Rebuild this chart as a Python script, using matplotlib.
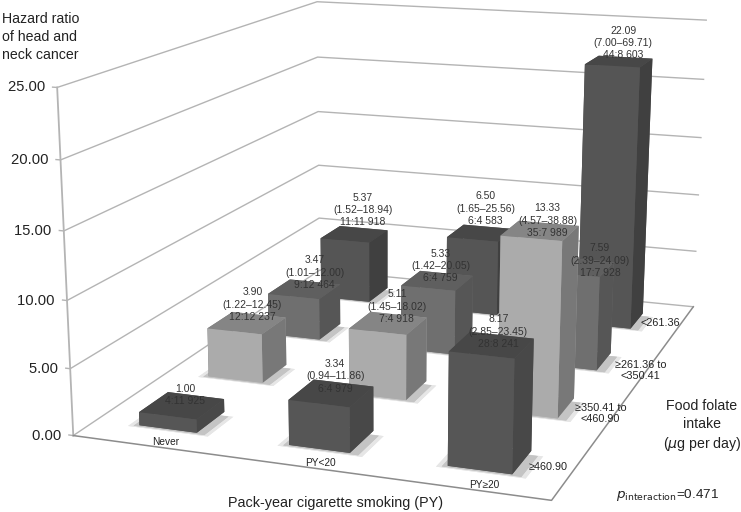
import numpy as np
import matplotlib
matplotlib.use("Agg")
import matplotlib.pyplot as plt
from mpl_toolkits.mplot3d import Axes3D  # noqa

plt.rcParams['font.family'] = ['Liberation Sans', 'DejaVu Sans']

# ---------- data ----------
smoking = ['Never', 'PY<20', 'PY≥20']
folate = ['≥460.90', '≥350.41 to\n<460.90', '≥261.36 to\n<350.41', '<261.36']
hr_never = [1.00, 3.90, 3.47, 5.37]
hr_py_lt20 = [3.34, 5.11, 5.33, 6.50]
hr_py_ge20 = [8.17, 13.33, 7.59, 22.09]
ci_never = ['', '(1.22–12.45)', '(1.01–12.00)', '(1.52–18.94)']
ci_py_lt20 = ['(0.94–11.86)', '(1.45–18.02)', '(1.42–20.05)', '(1.65–25.56)']
ci_py_ge20 = ['(2.85–23.45)', '(4.57–38.88)', '(2.39–24.09)', '(7.00–69.71)']
n_never = ['4:11 925', '12:12 237', '9:12 464', '11:11 918']
n_py_lt20 = ['6:4 979', '7:4 918', '6:4 759', '6:4 583']
n_py_ge20 = ['28:8 241', '35:7 989', '17:7 928', '44:8 603']
z_ticks = [0, 5, 10, 15, 20, 25]

W, H = 741, 512
# camera calibration: world (x, y, z) <-> reference pixel
world = np.array([(0,0,0),(3,0,0),(3,4,0),(0,4,0),(3,4,25),(0,0,25),(0,4,5),(0,0,5),(3,4,5),(0,0,15),(3,4,15)], float)
pix = np.array([(73,436),(552,500),(693,307),(322,270),(707,20),(58,88),(317,218),(70,368),(696,252),(63,231),(700,137)], float)

fig = plt.figure(figsize=(W/100, H/100), dpi=100, facecolor='white')
# square axes one figure-width wide; the frame overhangs top and bottom
ax = fig.add_axes([0, (H-W)/2/H, 1, W/H], projection='3d', computed_zorder=False)
ax.set_axis_off()
ax.patch.set_alpha(0)
x0, x1 = ax.viewLim.intervalx
y0, y1 = ax.viewLim.intervaly

px = x0 + pix[:, 0]/W*(x1-x0)
py = y0 + ((H+W)/2 - pix[:, 1])/W*(y1-y0)
A = []
for (X, Y, Z), u, v in zip(world, px, py):
    A.append([X,Y,Z,1,0,0,0,0,-u*X,-u*Y,-u*Z,-u])
    A.append([0,0,0,0,X,Y,Z,1,-v*X,-v*Y,-v*Z,-v])
P = np.linalg.svd(np.array(A))[2][-1].reshape(3, 4)
if P[2, 3] < 0:
    P = -P
M = np.vstack([P[0], P[1], [0, 0, 0, -1], P[2]])
ax.get_proj = lambda: M
ax.M = M

grid = '#b4b4b4'
# walls and floor
for z in z_ticks:
    ax.plot([-0.03, 0, 0, 3], [0, 0, 4, 4], [z, z, z, z], color=grid, lw=1.0, zorder=1)
ax.plot([0, 0], [0, 0], [0, 25], color=grid, lw=1.3, zorder=1)
ax.plot([0, 3, 3], [0, 0, 4], [0, 0, 0], color='#8c8c8c', lw=1.1, zorder=1)

series = [hr_never, hr_py_lt20, hr_py_ge20]
cis = [ci_never, ci_py_lt20, ci_py_ge20]
ns = [n_never, n_py_lt20, n_py_ge20]
# front / top / right shades for each folate row
shades = [('#565656', '#474747', '#484848'),
          ('#ababab', '#858585', '#787878'),
          ('#6f6f6f', '#5f5f5f', '#565656'),
          ('#555555', '#474747', '#404040')]
bw, bd = 0.39, 0.40
xoff = 0.49

zo = 2
for iy in range(3, -1, -1):
    for ix in range(3):
        xb = ix + xoff - bw/2
        yb = iy + 0.5 - bd/2
        h = series[ix][iy]
        # soft floor shadow, two layers
        ax.bar3d(xb-0.06, yb-0.035, 0, bw+0.15, bd-0.03, 0.001, color='#e6e6e6', shade=False,
                 edgecolor='none', zorder=zo)
        zo += 1
        ax.bar3d(xb-0.03, yb-0.02, 0, bw+0.09, bd-0.05, 0.001, color='#c4c4c4', shade=False,
                 edgecolor='none', zorder=zo)
        zo += 1
        f, t, r = shades[iy]
        ax.bar3d(xb, yb, 0, bw, bd, h, color=[f, t, f, f, r, r], shade=False,
                 edgecolor='none', zorder=zo)
        zo += 1

# value labels; placement nudges only, in world units
label_dx = [[-0.02, 0.0, 0.04, 0.03], [-0.015, 0.02, -0.015, 0.0], [0.0, 0.01, 0.11, -0.01]]
label_dz = [[0.0, 0.1, 0.0, 0.7], [0.0, 0.0, -0.2, 0.65], [-0.25, -0.5, -0.75, 0.1]]
zo = 500
for ix in range(3):
    for iy in range(4):
        lines = [f'{series[ix][iy]:.2f}']
        if cis[ix][iy]:
            lines.append(cis[ix][iy])
        lines.append(ns[ix][iy])
        ax.text(ix + 0.53 + label_dx[ix][iy], iy + 0.5, series[ix][iy] + label_dz[ix][iy],
                '\n'.join(lines), ha='center', va='bottom',
                fontsize=7.5, color='#333333', linespacing=1.3, zorder=zo)

# axis tick labels
for z in z_ticks:
    ax.text(0, 0, z, f'{z:.2f}   ', ha='right', va='center', fontsize=10.6, color='#222222', zorder=zo)
for ix, s in enumerate(smoking):
    ax.text(ix+0.58, 0.09, 0, s, ha='center', va='center', fontsize=7.3, color='#222222', zorder=zo)
folate_x = [2.74, 2.76, 2.80, 2.72]
folate_y = [0.45, 1.43, 2.33, 3.46]
for fx, fy, s in zip(folate_x, folate_y, folate):
    ax.text(fx, fy, 0, s, ha='left', va='center', ma='center', fontsize=7.8,
            color='#222222', zorder=zo, linespacing=1.15)

def T(x, y, s, **k):
    fig.text(x/W, 1-y/H, s, color='#222222', **k)
T(2, 37, 'Hazard ratio\nof head and\nneck cancer', ha='left', va='center', fontsize=10.2, linespacing=1.38)
T(336, 503, 'Pack-year cigarette smoking (PY)', ha='center', va='center', fontsize=10.35)
T(702, 426, 'Food folate\nintake\n($\\mu$g per day)', ha='center', va='center', fontsize=10.2, linespacing=1.3)
T(616, 495, '$p_{\\mathrm{interaction}}$=0.471', ha='left', va='center', fontsize=9.7)

fig.savefig('out.png', dpi=100)
